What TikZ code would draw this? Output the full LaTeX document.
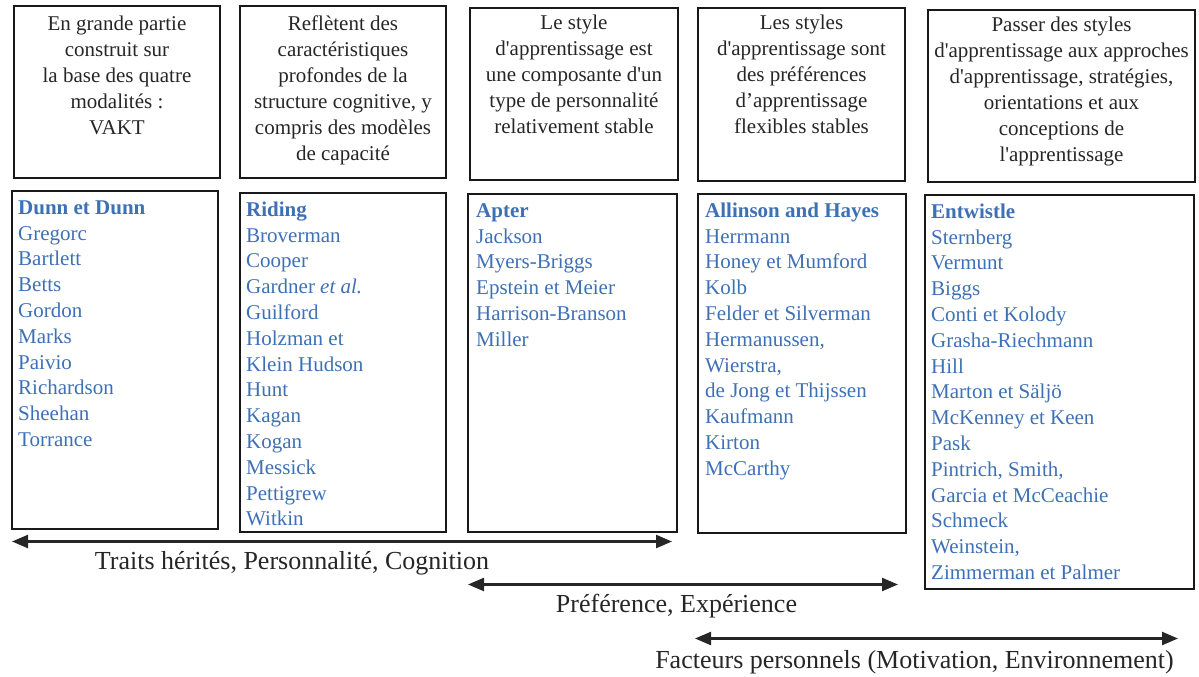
\documentclass[tikz,border=0pt]{standalone}
\usepackage{fontspec}
\setmainfont{Liberation Serif}[Ligatures=TeXOff]
\usetikzlibrary{arrows.meta}
\definecolor{authblue}{RGB}{62,112,182}
\definecolor{inkgray}{RGB}{38,38,38}
\tikzset{
  frame/.style={draw=black!90, line width=1.8pt, inner sep=0pt, outer sep=0pt},
  headtext/.style={align=center, inner sep=0pt, anchor=north, text=inkgray, font=\fontsize{21}{26}\selectfont},
  listtext/.style={align=left, inner sep=0pt, anchor=north west, text=authblue, font=\fontsize{21}{25.8}\selectfont},
  span/.style={draw=inkgray, line width=2.3pt, {Triangle[length=16pt,width=13pt]}-{Triangle[length=16pt,width=13pt]}},
  spanlabel/.style={anchor=base, inner sep=0pt, text=inkgray, font=\fontsize{26}{30}\selectfont},
}
\begin{document}
\begin{tikzpicture}[x=1pt,y=-1pt]
\useasboundingbox (0,0) rectangle (1199,677);
% top boxes
\node[frame, minimum width=206pt, minimum height=172pt] (t1) at (117,92) {};
\node[frame, minimum width=206pt, minimum height=172pt] (t2) at (343,92) {};
\node[frame, minimum width=208pt, minimum height=172pt] (t3) at (574,94) {};
\node[frame, minimum width=207pt, minimum height=173pt] (t4) at (801.5,94.5) {};
\node[frame, minimum width=267pt, minimum height=172pt] (t5) at (1061.5,96) {};
\node[headtext] (h1) at (117,12.3) {\strut En grande partie\\construit sur\\la base des quatre\\modalités :\\VAKT};
\node[headtext] (h2) at (343,12.3) {\strut Reflètent des\\caractéristiques\\profondes de la\\structure cognitive, y\\compris des modèles\\de capacité};
\node[headtext] (h3) at (574,10.8) {\strut Le style\\d'apprentissage est\\une composante d'un\\type de personnalité\\relativement stable};
\node[headtext] (h4) at (801.5,10.8) {\strut Les styles\\d'apprentissage sont\\des préférences\\d’apprentissage\\flexibles stables};
\node[headtext] (h5) at (1061.5,12.8) {\strut Passer des styles\\d'apprentissage aux approches\\d'apprentissage, stratégies,\\orientations et aux\\conceptions de\\l'apprentissage};
% bottom boxes
\node[frame, minimum width=206pt, minimum height=338pt] (b1) at (115,360) {};
\node[frame, minimum width=206pt, minimum height=339pt] (b2) at (343,362.5) {};
\node[frame, minimum width=209pt, minimum height=338pt] (b3) at (572.5,363) {};
\node[frame, minimum width=208pt, minimum height=339pt] (b4) at (802,363.5) {};
\node[frame, minimum width=269pt, minimum height=394pt] (b5) at (1059.5,392) {};
\node[listtext] (l1) at (18,196) {\strut\textbf{Dunn et Dunn}\\Gregorc\\Bartlett\\Betts\\Gordon\\Marks\\Paivio\\Richardson\\Sheehan\\Torrance};
\node[listtext] (l2) at (246,198) {\strut\textbf{Riding}\\Broverman\\Cooper\\Gardner \textit{et al.}\\Guilford\\Holzman et\\Klein Hudson\\Hunt\\Kagan\\Kogan\\Messick\\Pettigrew\\Witkin};
\node[listtext] (l3) at (476,199) {\strut\textbf{Apter}\\Jackson\\Myers-Briggs\\Epstein et Meier\\Harrison-Branson\\Miller};
\node[listtext] (l4) at (705,199) {\strut\textbf{Allinson and Hayes}\\Herrmann\\Honey et Mumford\\Kolb\\Felder et Silverman\\Hermanussen,\\Wierstra,\\de Jong et Thijssen\\Kaufmann\\Kirton\\McCarthy};
\node[listtext] (l5) at (931,200) {\strut\textbf{Entwistle}\\Sternberg\\Vermunt\\Biggs\\Conti et Kolody\\Grasha-Riechmann\\Hill\\Marton et Säljö\\McKenney et Keen\\Pask\\Pintrich, Smith,\\Garcia et McCeachie\\Schmeck\\Weinstein,\\Zimmerman et Palmer};
% spans
\coordinate (s1a) at (12,541.5);
\coordinate (s1b) at (672,541.5);
\coordinate (s2a) at (468,584.5);
\coordinate (s2b) at (898,584.5);
\coordinate (s3a) at (695,638.5);
\coordinate (s3b) at (1178,638.5);
\draw[span] (s1a) -- (s1b);
\draw[span] (s2a) -- (s2b);
\draw[span] (s3a) -- (s3b);
\node[spanlabel] (g1) at (292,569) {Traits hérités, Personnalité, Cognition};
\node[spanlabel] (g2) at (676.5,612) {Préférence, Expérience};
\node[spanlabel] (g3) at (914.5,668) {Facteurs personnels (Motivation, Environnement)};
\end{tikzpicture}
\end{document}
